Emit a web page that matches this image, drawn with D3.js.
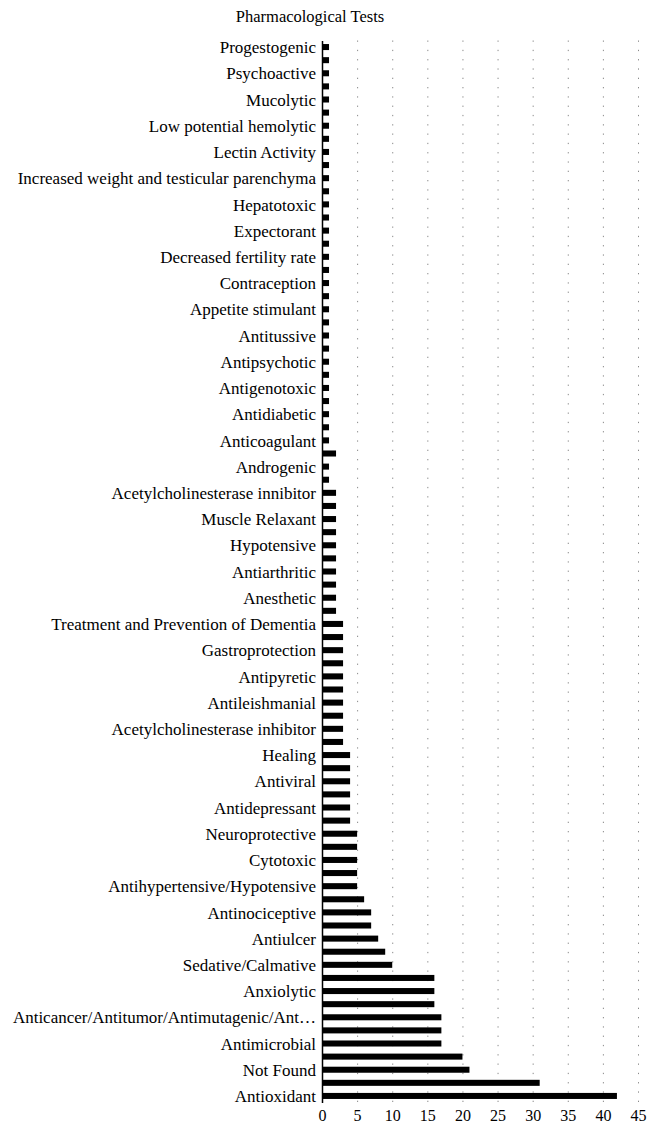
<!DOCTYPE html>
<html>
<head>
<meta charset="utf-8">
<script src="https://cdn.jsdelivr.net/npm/d3@7"></script>
<style>
  body { margin: 0; background: #fff; }
  svg { display: block; }
  .chart-title { font-size: 16.5px; font-family: "Liberation Serif", "DejaVu Serif", serif; }
</style>
</head>
<body>
<div id="chart"></div>
<script>
// Labels shown on the axis (every other bar carries a label), top to bottom
const labels = [
  'Progestogenic', 'Psychoactive', 'Mucolytic', 'Low potential hemolytic',
  'Lectin Activity', 'Increased weight and testicular parenchyma', 'Hepatotoxic',
  'Expectorant', 'Decreased fertility rate', 'Contraception', 'Appetite stimulant',
  'Antitussive', 'Antipsychotic', 'Antigenotoxic', 'Antidiabetic', 'Anticoagulant',
  'Androgenic', 'Acetylcholinesterase innibitor', 'Muscle Relaxant', 'Hypotensive',
  'Antiarthritic', 'Anesthetic', 'Treatment and Prevention of Dementia',
  'Gastroprotection', 'Antipyretic', 'Antileishmanial',
  'Acetylcholinesterase inhibitor', 'Healing', 'Antiviral', 'Antidepressant',
  'Neuroprotective', 'Cytotoxic', 'Antihypertensive/Hypotensive', 'Antinociceptive',
  'Antiulcer', 'Sedative/Calmative', 'Anxiolytic',
  'Anticancer/Antitumor/Antimutagenic/Ant\u2026', 'Antimicrobial', 'Not Found',
  'Antioxidant'
];

// Bar values, top to bottom (81 bars)
const values = [
  1, 1, 1, 1, 1, 1, 1, 1, 1, 1,
  1, 1, 1, 1, 1, 1, 1, 1, 1, 1,
  1, 1, 1, 1, 1, 1, 1, 1, 1, 1,
  1, 2, 1, 1, 2, 2, 2, 2, 2, 2,
  2, 2, 2, 2, 3, 3, 3, 3, 3, 3,
  3, 3, 3, 3, 4, 4, 4, 4, 4, 4,
  5, 5, 5, 5, 5, 6, 7, 7, 8, 9,
  10, 16, 16, 16, 17, 17, 17, 20, 21, 31,
  42
];

const xTicks = [0, 5, 10, 15, 20, 25, 30, 35, 40, 45];

const width = 654;
const height = 1130;
const margin = { top: 40.5, right: 16, bottom: 27.5, left: 322 };
const fontFamily = '"Liberation Serif", "DejaVu Serif", serif';

const svg = d3.select('#chart')
  .append('svg')
  .attr('width', width)
  .attr('height', height);

const xScale = d3.scaleLinear()
  .domain([0, 45])
  .range([margin.left, width - margin.right]);

const yScale = d3.scaleBand()
  .domain(d3.range(values.length))
  .range([margin.top, height - margin.bottom])
  .paddingInner(0.54)
  .paddingOuter(0.27);

// Dotted vertical gridlines
svg.append('g')
  .selectAll('line')
  .data(xTicks.slice(1))
  .enter()
  .append('line')
  .attr('x1', (d) => xScale(d) + 0.5)
  .attr('x2', (d) => xScale(d) + 0.5)
  .attr('y1', margin.top)
  .attr('y2', height - margin.bottom)
  .attr('stroke', '#8a8a8a')
  .attr('stroke-width', 1)
  .attr('stroke-dasharray', '1.3,8');

// Bars
svg.append('g')
  .selectAll('rect')
  .data(values)
  .enter()
  .append('rect')
  .attr('x', xScale(0))
  .attr('y', (d, i) => yScale(i))
  .attr('width', (d) => xScale(d) - xScale(0))
  .attr('height', yScale.bandwidth())
  .attr('fill', '#000');

// Y axis (labels on every other bar)
const yAxis = svg.append('g')
  .attr('transform', `translate(${margin.left}, 0)`)
  .call(d3.axisLeft(yScale)
    .tickSize(0)
    .tickPadding(6)
    .tickFormat((i) => (i % 2 === 0 ? labels[i / 2] : '')))
  .attr('font-family', fontFamily)
  .attr('font-size', 17);
yAxis.select('.domain')
  .attr('stroke', '#000')
  .attr('stroke-width', 1.5);
yAxis.selectAll('text').attr('dy', '0.36em').attr('fill', '#000');

// X axis (tick labels only)
const xAxis = svg.append('g')
  .attr('transform', `translate(0, ${height - margin.bottom})`)
  .call(d3.axisBottom(xScale).tickValues(xTicks).tickSize(0).tickPadding(7))
  .attr('font-family', fontFamily)
  .attr('font-size', 16);
xAxis.select('.domain').remove();
xAxis.selectAll('text').attr('fill', '#000');

// Title
svg.append('text')
  .attr('class', 'chart-title')
  .attr('x', 310)
  .attr('y', 22)
  .attr('text-anchor', 'middle')
  .text('Pharmacological Tests');
</script>
</body>
</html>
